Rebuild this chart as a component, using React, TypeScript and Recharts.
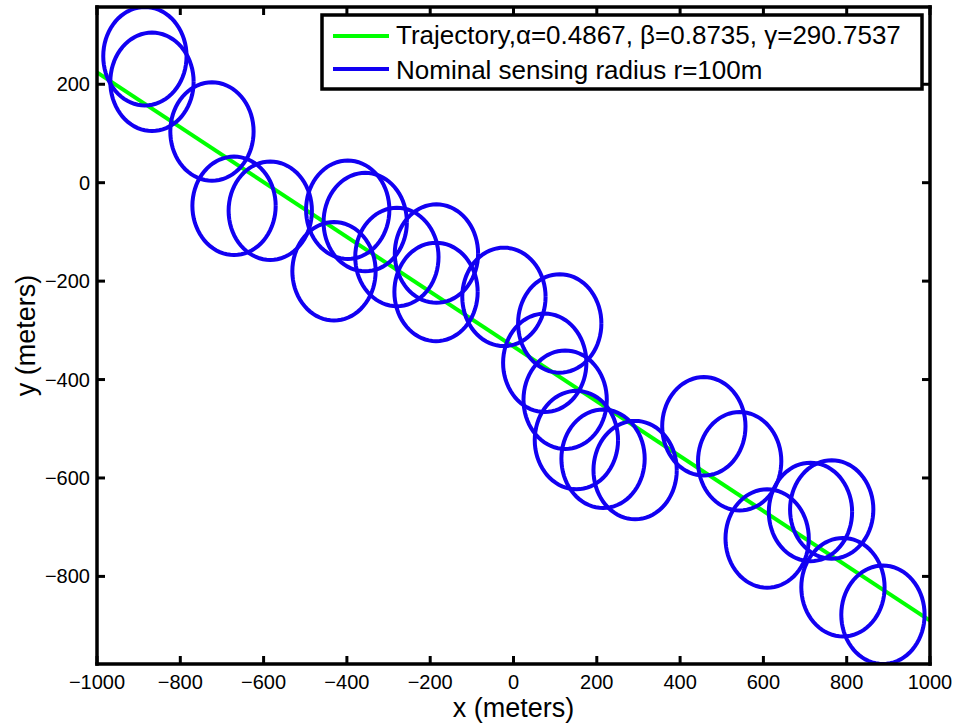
import React from 'react';
import { LineChart, Line, XAxis, YAxis } from 'recharts';

// axis ticks
const X_TICKS = [-1000, -800, -600, -400, -200, 0, 200, 400, 600, 800, 1000];
const Y_TICKS = [-800, -600, -400, -200, 0, 200];

// sensor centres (meters)
const SENSOR_X = [-885, -868, -724, -671, -584, -398, -356, -431, -280, -185, -186, -23, 111, 75, 124, 151, 215, 292, 457, 543, 609, 713, 764, 791, 887];
const SENSOR_Y = [257, 205, 104, -47, -57, -55, -80, -180, -151, -144, -222, -232, -286, -366, -441, -523, -561, -584, -495, -566, -723, -669, -664, -822, -878];
const RADIUS = 100;

// trajectory end points
const TRAJ_X = [-1000, 1000];
const TRAJ_Y = [224, -890];

const TRAJ_LABEL = 'Trajectory,\u03b1=0.4867, \u03b2=0.8735, \u03b3=290.7537';
const CIRCLE_LABEL = 'Nominal sensing radius r=100m';

const FONT = '"Liberation Sans", Arial, Helvetica, sans-serif';
const BLUE = '#1200f2';
const GREEN = '#00ff00';

const trajectory = TRAJ_X.map((x, i) => ({ x, y: TRAJ_Y[i] }));

// outline of one sensing circle around a centre
const ring = (cx: number, cy: number) => {
  const pts = [];
  for (let k = 0; k <= 72; k++) {
    const a = (k / 72) * Math.PI * 2;
    pts.push({ x: cx + RADIUS * Math.cos(a), y: cy + RADIUS * Math.sin(a) });
  }
  return pts;
};

const yDomain = [Math.min(...SENSOR_Y) - RADIUS, Math.max(...SENSOR_Y) + RADIUS];

const fmt = (v: number) => (v < 0 ? '\u2212' + Math.abs(v) : String(v));

const BottomTick = ({ x, y, payload }: any) => (
  <g>
    <line x1={x} x2={x} y1={y} y2={y - 8} stroke="#000" strokeWidth={3} />
    <text x={x} y={y + 25} textAnchor="middle" fontSize={20} fontFamily={FONT} fill="#000">
      {fmt(payload.value)}
    </text>
  </g>
);

const TopTick = ({ x, y }: any) => (
  <line x1={x} x2={x} y1={y} y2={y + 8} stroke="#000" strokeWidth={3} />
);

const LeftTick = ({ x, y, payload }: any) => (
  <g>
    <line x1={x} x2={x + 8} y1={y} y2={y} stroke="#000" strokeWidth={3} />
    <text x={x - 7} y={y + 7} textAnchor="end" fontSize={20} fontFamily={FONT} fill="#000">
      {fmt(payload.value)}
    </text>
  </g>
);

const RightTick = ({ x, y }: any) => (
  <line x1={x} x2={x - 8} y1={y} y2={y} stroke="#000" strokeWidth={3} />
);

const LegendBox = () => (
  <svg width={605} height={79} style={{ display: 'block' }}>
    <rect x={2} y={2} width={600} height={74} fill="#fff" stroke="#000" strokeWidth={3.5} />
    <line x1={13} x2={69} y1={23} y2={23} stroke={GREEN} strokeWidth={4} />
    <text x={76} y={31} fontSize={26} fontFamily={FONT} fill="#000">{TRAJ_LABEL}</text>
    <line x1={13} x2={69} y1={56} y2={56} stroke={BLUE} strokeWidth={4} />
    <text x={76} y={66} fontSize={26} fontFamily={FONT} fill="#000">{CIRCLE_LABEL}</text>
  </svg>
);

const axisLine = { stroke: '#000', strokeWidth: 3.5, strokeLinecap: 'square' as const };

export default function App() {
  return (
    <div style={{ position: 'absolute', left: 0, top: 0, width: 957, height: 726 }}>
      <LineChart width={957} height={726} margin={{ top: 6, right: 26, bottom: 22, left: 37 }}>
        <XAxis
          xAxisId="b"
          type="number"
          dataKey="x"
          domain={[-1000, 1000]}
          ticks={X_TICKS}
          allowDataOverflow
          height={40}
          tickSize={0}
          tickMargin={0}
          tickLine={false}
          axisLine={axisLine}
          tick={BottomTick}
          interval={0}
          label={{ value: 'x (meters)', position: 'bottom', offset: -6, fontSize: 27, fill: '#000', fontFamily: FONT }}
        />
        <XAxis
          xAxisId="t"
          orientation="top"
          type="number"
          dataKey="x"
          domain={[-1000, 1000]}
          ticks={X_TICKS}
          allowDataOverflow
          height={1}
          tickSize={0}
          tickMargin={0}
          tickLine={false}
          axisLine={axisLine}
          tick={TopTick}
          interval={0}
        />
        <YAxis
          yAxisId="l"
          type="number"
          dataKey="y"
          domain={yDomain}
          ticks={Y_TICKS}
          allowDataOverflow
          width={60}
          tickSize={0}
          tickMargin={0}
          tickLine={false}
          axisLine={axisLine}
          tick={LeftTick}
          interval={0}
          label={{ value: 'y (meters)', angle: -90, position: 'insideLeft', offset: -12, fontSize: 27, fill: '#000', fontFamily: FONT, style: { textAnchor: 'middle' } }}
        />
        <YAxis
          yAxisId="r"
          orientation="right"
          type="number"
          dataKey="y"
          domain={yDomain}
          ticks={Y_TICKS}
          allowDataOverflow
          width={1}
          tickSize={0}
          tickMargin={0}
          tickLine={false}
          axisLine={axisLine}
          tick={RightTick}
          interval={0}
        />
        <Line
          xAxisId="b"
          yAxisId="l"
          data={trajectory}
          dataKey="y"
          stroke={GREEN}
          strokeWidth={4}
          dot={false}
          activeDot={false}
          isAnimationActive={false}
        />
        {SENSOR_X.map((cx, i) => (
          <Line
            key={i}
            xAxisId="b"
            yAxisId="l"
            data={ring(cx, SENSOR_Y[i])}
            dataKey="y"
            stroke={BLUE}
            strokeWidth={4}
            dot={false}
            activeDot={false}
            isAnimationActive={false}
          />
        ))}
      </LineChart>
      <div style={{ position: 'absolute', left: 320, top: 13 }}>
        <LegendBox />
      </div>
    </div>
  );
}
